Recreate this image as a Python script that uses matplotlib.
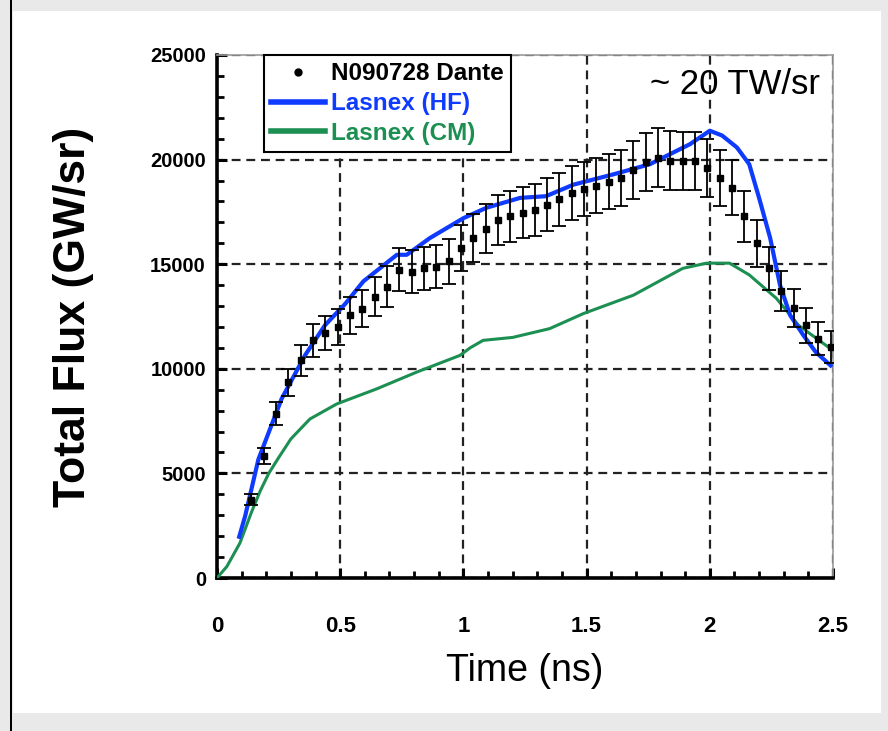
import matplotlib
matplotlib.use("Agg")
import matplotlib.pyplot as plt
from matplotlib.patches import Rectangle
from matplotlib.lines import Line2D
from matplotlib.ticker import MultipleLocator

# ---------------- data ----------------
dante_t = [0.14, 0.19, 0.24, 0.29, 0.34, 0.39, 0.44, 0.49,
           0.54, 0.59, 0.64, 0.69, 0.74, 0.79, 0.84, 0.89, 0.94, 0.99,
           1.04, 1.09, 1.14, 1.19, 1.24, 1.29, 1.34, 1.39, 1.44, 1.49,
           1.54, 1.59, 1.64, 1.69, 1.74, 1.79, 1.84, 1.89, 1.94, 1.99,
           2.04, 2.09, 2.14, 2.19, 2.24, 2.29, 2.34, 2.39, 2.44, 2.49]
dante_v = [3750, 5830, 7840, 9360, 10400, 11360, 11700, 12000,
           12560, 12880, 13450, 13930, 14730, 14650, 14800, 14890, 15130, 15770,
           16250, 16700, 17130, 17290, 17450, 17600, 17850, 18100, 18400, 18600,
           18750, 18950, 19130, 19500, 19900, 20100, 19950, 19940, 19940, 19600,
           19130, 18650, 17290, 16000, 14800, 13700, 12900, 12080, 11440, 11040]
dante_err = [260, 400, 550, 650, 730, 800, 820, 840,
             880, 900, 940, 980, 1030, 1030, 1040, 1040, 1060, 1100,
             1140, 1170, 1200, 1210, 1220, 1230, 1250, 1270, 1290, 1300,
             1310, 1330, 1340, 1370, 1390, 1400, 1400, 1400, 1400, 1370,
             1340, 1310, 1210, 1120, 1040, 960, 900, 850, 800, 770]

hf_t = [0.09, 0.114, 0.168, 0.262, 0.357, 0.438, 0.52, 0.594, 0.73, 0.77,
        0.864, 1.0, 1.094, 1.23, 1.335, 1.446, 1.61, 1.757, 1.92, 2.0,
        2.05, 2.11, 2.16, 2.2, 2.245, 2.285, 2.326, 2.38, 2.43, 2.49]
hf_v = [1970, 2950, 5670, 8560, 10640, 12080, 13100, 14180, 15450, 15450,
        16250, 17200, 17700, 18170, 18250, 18800, 19300, 19780, 20740, 21380,
        21150, 20580, 19780, 18170, 16250, 14000, 12560, 11600, 10800, 10160]

cm_t = [0.0, 0.04, 0.093, 0.14, 0.175, 0.21, 0.25, 0.3, 0.377, 0.486,
        0.648, 0.81, 0.986, 1.027, 1.08, 1.2, 1.35, 1.487, 1.69, 1.89,
        1.987, 2.08, 2.16, 2.27, 2.36, 2.49]
cm_v = [0, 550, 1670, 3150, 4150, 5000, 5750, 6650, 7600, 8320,
        9040, 9840, 10640, 11000, 11360, 11500, 11920, 12640, 13520, 14800,
        15050, 15050, 14490, 13370, 12080, 10960]

x_ticks = [0, 0.5, 1, 1.5, 2, 2.5]
x_tick_labels = ["0", "0.5", "1", "1.5", "2", "2.5"]
y_ticks = [0, 5000, 10000, 15000, 20000, 25000]
y_tick_labels = ["0", "5000", "10000", "15000", "20000", "25000"]

labels = ["N090728 Dante", "Lasnex (HF)", "Lasnex (CM)"]

# ---------------- style ----------------
BLUE = "#0f3bff"
GREEN = "#1c8f52"
BOLD = ["Liberation Sans", "DejaVu Sans"]

W, H = 888, 731
fig = plt.figure(figsize=(W / 100, H / 100), dpi=100, facecolor="#e9e9e9")

# white panel and left black rule
fig.patches.append(Rectangle((13 / W, 1 - 713 / H), (881 - 13) / W, (713 - 11) / H,
                             transform=fig.transFigure, facecolor="white",
                             edgecolor="none", zorder=-2))
fig.patches.append(Rectangle((9.5 / W, 0), 2.5 / W, 1,
                             transform=fig.transFigure, facecolor="black",
                             edgecolor="none", zorder=-2))

left, right, top, bottom = 217, 833, 55, 578
ax = fig.add_axes([left / W, 1 - bottom / H, (right - left) / W, (bottom - top) / H])
ax.set_zorder(2)
ax.set_facecolor("white")

ax.plot(cm_t, cm_v, color=GREEN, lw=2.2, zorder=3)
ax.plot(hf_t, hf_v, color=BLUE, lw=3.0, zorder=3)
ax.errorbar(dante_t, dante_v, yerr=dante_err, fmt="s", color="black",
            ms=4.5, elinewidth=1.3, capsize=4.8, capthick=1.3, zorder=4)

ax.set_xlim(0, 2.5)
ax.set_ylim(0, 25000)
ax.set_xticks(x_ticks)
ax.set_xticklabels(x_tick_labels)
ax.set_yticks(y_ticks)
ax.set_yticklabels(y_tick_labels)
ax.xaxis.set_minor_locator(MultipleLocator(0.1))
ax.yaxis.set_minor_locator(MultipleLocator(1000))

ax.grid(True, which="major", color="#222222", lw=1.6, linestyle=(0, (4, 2.6)))
ax.set_axisbelow(True)

for s in ["left", "bottom"]:
    ax.spines[s].set_linewidth(2.6)
    ax.spines[s].set_color("black")
for s in ["top", "right"]:
    ax.spines[s].set_linewidth(1.2)
    ax.spines[s].set_color("#9a9a9a")

ax.tick_params(which="major", direction="in", length=7, width=2.2,
               top=False, right=False)
ax.tick_params(which="minor", direction="in", length=5, width=2.0,
               top=False, right=False)
ax.tick_params(axis="y", which="major", pad=8)
ax.tick_params(axis="x", which="major", pad=27)
for lab in ax.get_yticklabels():
    lab.set_fontfamily(BOLD)
    lab.set_fontweight("bold")
    lab.set_fontsize(14.5)
for lab in ax.get_xticklabels():
    lab.set_fontfamily(BOLD)
    lab.set_fontweight("bold")
    lab.set_fontsize(16)

ax.set_ylabel("Total Flux (GW/sr)", fontsize=32, fontweight="bold",
              family=BOLD, labelpad=40)
ax.set_xlabel("Time (ns)", fontsize=27, family=BOLD, labelpad=12)

ax.text(0.979, 0.943, "~ 20 TW/sr", transform=ax.transAxes, ha="right",
        va="center", fontsize=25, family=BOLD)

handles = [
    Line2D([], [], marker="o", color="black", ls="none", ms=5),
    Line2D([], [], color=BLUE, lw=4),
    Line2D([], [], color=GREEN, lw=4),
]
leg = ax.legend(handles, labels, loc="upper left", bbox_to_anchor=(0.076, 1.0),
                borderaxespad=0, frameon=True, fancybox=False, framealpha=1,
                edgecolor="black", handlelength=2.2, handletextpad=0.25,
                labelspacing=0.28, borderpad=0.3,
                prop={"family": BOLD, "weight": "bold", "size": 17.5})
leg.get_frame().set_linewidth(1.5)
for txt, c in zip(leg.get_texts(), ["black", BLUE, GREEN]):
    txt.set_color(c)
leg.set_zorder(6)

fig.savefig("out.png", dpi=100, facecolor=fig.get_facecolor())
